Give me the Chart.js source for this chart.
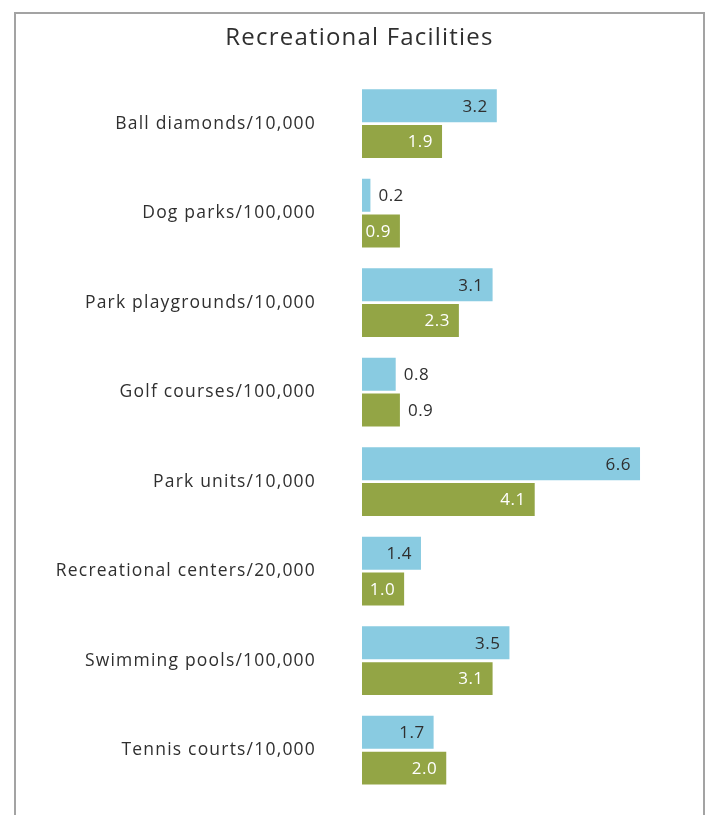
<!DOCTYPE html>
<html>
<head>
<meta charset="utf-8">
<script src="https://cdn.jsdelivr.net/npm/chart.js@4"></script>
<style>
    html, body { margin: 0; padding: 0; background: #fff; overflow: hidden; }
    #wrap { position: relative; width: 707px; height: 815px; overflow: hidden; }
    #frame {
        position: absolute; left: 14px; top: 12px; width: 687px; height: 803px;
        border: 2px solid #a3a3a3; border-bottom: none; pointer-events: none;
    }
    canvas { position: absolute; left: 0; top: 0; }
</style>
</head>
<body>
<div id="wrap">
    <div id="frame"></div>
    <canvas id="chart" width="707" height="815"></canvas>
</div>
<script>
// ========== DATA ==========
const categories = [
    'Ball diamonds/10,000',
    'Dog parks/100,000',
    'Park playgrounds/10,000',
    'Golf courses/100,000',
    'Park units/10,000',
    'Recreational centers/20,000',
    'Swimming pools/100,000',
    'Tennis courts/10,000'
];
const blueValues = [3.2, 0.2, 3.1, 0.8, 6.6, 1.4, 3.5, 1.7];
const greenValues = [1.9, 0.9, 2.3, 0.9, 4.1, 1.0, 3.1, 2.0];

const COLORS = { blue: '#89cbe1', green: '#93a545', text: '#2f2f2f' };
const FONT = "'Open Sans', Lato, sans-serif";

// labels that sit past the bar end instead of inside it
const outsideLabels = [[0, 1], [0, 3], [1, 3]];
const isOutside = (ds, i) => outsideLabels.some(p => p[0] === ds && p[1] === i);

// wider tracking, closer to the original's geometric face
const tracking = {
    id: 'tracking',
    beforeDraw(chart) { chart.ctx.letterSpacing = '1.2px'; }
};

// ========== VALUE LABELS ==========
const valueLabels = {
    id: 'valueLabels',
    afterDatasetsDraw(chart) {
        const ctx = chart.ctx;
        ctx.save();
        ctx.letterSpacing = '0.5px';
        ctx.font = '17px ' + FONT;
        ctx.textBaseline = 'middle';
        chart.data.datasets.forEach((ds, di) => {
            chart.getDatasetMeta(di).data.forEach((bar, i) => {
                const txt = ds.data[i].toFixed(1);
                if (isOutside(di, i)) {
                    ctx.textAlign = 'left';
                    ctx.fillStyle = COLORS.text;
                    ctx.fillText(txt, bar.x + 8, bar.y + 1);
                } else {
                    ctx.textAlign = 'right';
                    ctx.fillStyle = di === 0 ? COLORS.text : '#ffffff';
                    ctx.fillText(txt, bar.x - 9, bar.y + 1);
                }
            });
        });
        ctx.restore();
    }
};

new Chart(document.getElementById('chart'), {
    type: 'bar',
    data: {
        labels: categories,
        datasets: [
            { data: blueValues, backgroundColor: COLORS.blue, borderWidth: 0 },
            { data: greenValues, backgroundColor: COLORS.green, borderWidth: 0 }
        ]
    },
    options: {
        responsive: false,
        animation: false,
        indexAxis: 'y',
        categoryPercentage: 0.8,
        barPercentage: 0.92,
        layout: { padding: { left: 20, right: 8, top: 0, bottom: 20 } },
        plugins: {
            legend: { display: false },
            tooltip: { enabled: false },
            title: {
                display: true,
                text: 'Recreational Facilities',
                color: COLORS.text,
                font: { family: FONT, size: 24, weight: 'normal' },
                padding: { top: 24, bottom: 26 }
            }
        },
        scales: {
            x: { display: false, min: 0, max: 8 },
            y: {
                grid: { display: false, drawTicks: false },
                border: { display: false },
                ticks: {
                    color: COLORS.text,
                    padding: 46,
                    font: { family: FONT, size: 17.5 }
                },
                afterFit(scale) {
                    scale.width = 342;
                    // tick padding should only push labels sideways
                    scale.paddingTop = 0;
                    scale.paddingBottom = 0;
                }
            }
        }
    },
    plugins: [tracking, valueLabels]
});
</script>
</body>
</html>
